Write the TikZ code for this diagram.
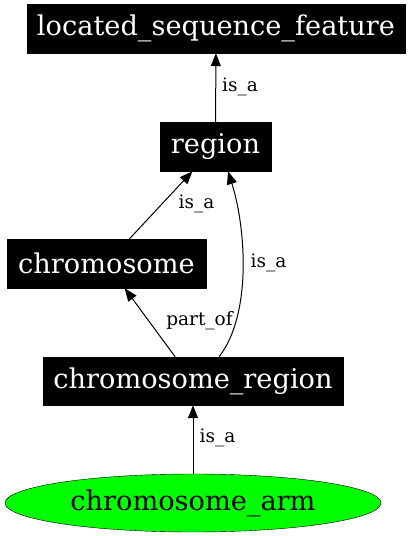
\documentclass[tikz,border=0pt]{standalone}
\usepackage{fontspec}
\setmainfont{DejaVu Serif}
\usetikzlibrary{arrows.meta}
\usetikzlibrary{shapes.geometric}
\usetikzlibrary{calc}

\begin{document}
\begin{tikzpicture}[x = 1pt, y = -1pt]
			\useasboundingbox (0, 0) rectangle (409, 536);
			
			\begin{scope}[every node/.style={rectangle, draw, fill = black, text = white, inner sep = 0pt, minimum height = 49pt, font = \fontsize{27.2}{30}\selectfont}]
			\node (lsf) [minimum width = 378pt] at (216, 28.5) {located\_sequence\_feature};
			\node (reg) [minimum width = 111pt] at (215.5, 146.5) {region};
			\node (chr) [minimum width = 199pt] at (106.5, 263.5) {chromosome};
			\node (chrreg) [minimum width = 300pt, minimum height = 48pt] at (193, 381) {chromosome\_region};
			\end{scope}
			
			\begin{scope}[every node/.style={ellipse, draw, fill = green, inner sep = 0pt, minimum width = 376pt, minimum height = 58pt, font = \fontsize{27.2}{30}\selectfont}]
			\node (arm) at (193, 503) {chromosome\_arm};
			\end{scope}
			
			\begin{scope}[every node/.style={inner sep = 0pt, font = \fontsize{18.5}{22}\selectfont}]
			\node (l0) at (240, 87) {is\_a};
			\node (l1) at (196.5, 204) {is\_a};
			\node (l2) at (268.5, 263) {is\_a};
			\node (l3) at (199.5, 321) {part\_of};
			\node (l4) at (217.5, 438) {is\_a};
			\end{scope}
			
			\begin{scope}[>={Triangle[length = 13pt, width = 10pt]},
			every edge/.style = {draw = black, line width = 1pt}]
			\path [->] 	(reg) edge node {} (lsf)
			(chr) edge node {} (reg)
			(chrreg) edge node {} (chr)
			(arm) edge node {} (chrreg);
			\draw [->, line width = 1pt] ($(chrreg.north) + (26, 0)$) .. controls ($(chrreg.north) + (59, -42)$) and ($(reg.south) + (30.5, 57)$) .. ($(reg.south) + (12.5, 0)$);
			\end{scope}
			
\end{tikzpicture}
\end{document}
